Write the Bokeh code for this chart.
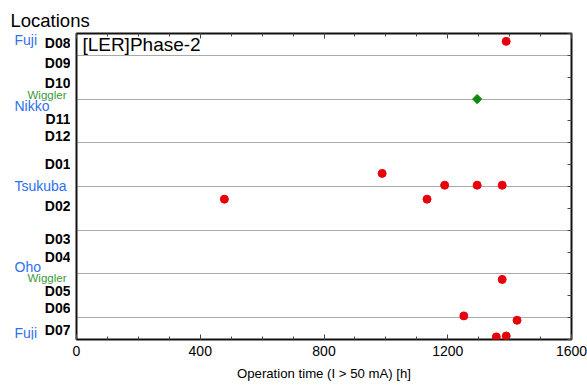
from bokeh.plotting import figure
from bokeh.models import Range1d, FixedTicker, LinearAxis
from bokeh.layouts import column, row
from bokeh.core.properties import value
from bokeh.embed import file_html
from bokeh.resources import INLINE

# ---- data ----
x_ticks = [0, 400, 800, 1200, 1600]
x_minor = list(range(0, 1601, 100))
y_marks = [i * 0.5 for i in range(15)]

sector_labels = ["D08", "D09", "D10", "D11", "D12", "D01", "D02", "D03",
                 "D04", "D05", "D06", "D07"]
sector_pos = [6.78, 6.33, 5.86, 5.05, 4.66, 4.02, 3.05, 2.31, 1.88, 1.12, 0.72, 0.22]

location_labels = ["Fuji", "Nikko", "Tsukuba", "Oho", "Fuji"]
location_pos = [6.85, 5.35, 3.51, 1.65, 0.16]

wiggler_labels = ["Wiggler", "Wiggler"]
wiggler_label_pos = [5.59, 1.40]

section_lines = [0.5, 1.5, 2.5, 3.5, 4.5, 5.5, 6.5]

red_hours = [1389, 988, 1190, 1295, 1376, 478, 1133, 1376, 1252, 1424, 1357, 1389]
red_pos = [6.82, 3.80, 3.53, 3.53, 3.53, 3.21, 3.21, 1.375, 0.54, 0.44, 0.06, 0.08]

wiggler_hours = [1295]
wiggler_pos = [5.5]

FONT = "Liberation Sans"
X0, X1 = 0, 1600
Y0, Y1 = 0, 7

TOTAL_W, TOTAL_H = 587, 386
TOP_H = 30          # strip holding "Locations"
LEFT_W = 70         # strip holding row labels
MB_L, MB_R, MB_T, MB_B = 6, 16, 3, 47
MAIN_W = TOTAL_W - LEFT_W
MAIN_H = TOTAL_H - TOP_H


def strip(width, height, xr, yr):
    f = figure(width=width, height=height, x_range=xr, y_range=yr,
               output_backend="svg", toolbar_location=None,
               min_border=0, min_border_left=0, min_border_right=0,
               min_border_top=0, min_border_bottom=0)
    f.axis.visible = False
    f.grid.visible = False
    f.outline_line_color = None
    f.background_fill_color = "white"
    f.border_fill_color = "white"
    return f


def tick_axis(minor, length):
    return LinearAxis(ticker=FixedTicker(ticks=[], minor_ticks=minor),
                      major_tick_in=0, major_tick_out=0,
                      minor_tick_in=length, minor_tick_out=0,
                      axis_line_color=None, minor_tick_line_color="#444444",
                      major_label_standoff=0)


# ---- top strip: "Locations" ----
top_fig = strip(TOTAL_W, TOP_H, Range1d(0, TOTAL_W), Range1d(TOP_H, 0))
top_fig.text(x=[10], y=[20], text=["Locations"], text_font=value(FONT),
             text_font_size="18.5px", text_align="left", text_baseline="middle",
             text_color="black")

# ---- left strip: section / location labels (frame aligned with main plot) ----
left_fig = strip(LEFT_W, MAIN_H, Range1d(0, LEFT_W), Range1d(Y0, Y1))
left_fig.min_border_top = MB_T
left_fig.min_border_bottom = MB_B
left_fig.text(x=[70] * len(sector_labels), y=sector_pos, text=sector_labels,
              text_font=value(FONT), text_font_style="bold", text_font_size="14px",
              text_align="right", text_baseline="middle", text_color="black")
left_fig.text(x=[14] * len(location_labels), y=location_pos, text=location_labels,
              text_font=value(FONT), text_font_size="14px",
              text_align="left", text_baseline="middle", text_color="#2f6ff0")
left_fig.text(x=[27] * len(wiggler_labels), y=wiggler_label_pos, text=wiggler_labels,
              text_font=value(FONT), text_font_size="11.5px",
              text_align="left", text_baseline="middle", text_color="#3a9a3a")

# ---- main plot ----
p = figure(width=MAIN_W, height=MAIN_H, x_range=Range1d(X0, X1), y_range=Range1d(Y0, Y1),
           output_backend="svg", toolbar_location=None,
           min_border_left=MB_L, min_border_right=MB_R, min_border_top=MB_T,
           min_border_bottom=MB_B)
p.outline_line_color = "#111111"
p.outline_line_width = 2
p.background_fill_color = "white"
p.border_fill_color = "white"

p.yaxis.visible = False

xa = p.xaxis[0]
xa.ticker = FixedTicker(ticks=x_ticks, minor_ticks=x_minor)
xa.major_tick_in = 5
xa.major_tick_out = 0
xa.minor_tick_in = 3
xa.minor_tick_out = 0
xa.axis_line_color = None
xa.major_tick_line_color = "#444444"
xa.minor_tick_line_color = "#444444"
xa.major_label_text_font = FONT
xa.major_label_text_font_size = "14px"
xa.major_label_text_color = "black"
xa.major_label_standoff = 6
xa.axis_label = "Operation time (I > 50 mA) [h]"
xa.axis_label_text_font = FONT
xa.axis_label_text_font_size = "13.2px"
xa.axis_label_text_font_style = "normal"
xa.axis_label_text_color = "black"
xa.axis_label_standoff = 7

# top frame ticks (minor every 100, longer every 400) and right frame ticks
p.add_layout(tick_axis(x_minor, 3), "above")
p.add_layout(tick_axis(x_ticks, 5), "above")
p.add_layout(tick_axis(y_marks, 4), "right")

p.xgrid.visible = False
p.ygrid.ticker = FixedTicker(ticks=section_lines)
p.ygrid.grid_line_color = "#555555"
p.ygrid.grid_line_dash = "1 1"
p.ygrid.grid_line_width = 1

p.scatter(red_hours, red_pos, size=8, color="#e8000b")
p.scatter(wiggler_hours, wiggler_pos, marker="square", angle=45, angle_units="deg",
          size=6.5, color="#0a8a0a")

p.text(x=[19], y=[Y1 - 0.02], text=["[LER]Phase-2"], text_font=value(FONT),
       text_font_size="19px", text_align="left", text_baseline="top",
       text_color="black")

layout = column(top_fig, row(left_fig, p, spacing=0), spacing=0)

open("out.html", "w").write(file_html(layout, INLINE))
